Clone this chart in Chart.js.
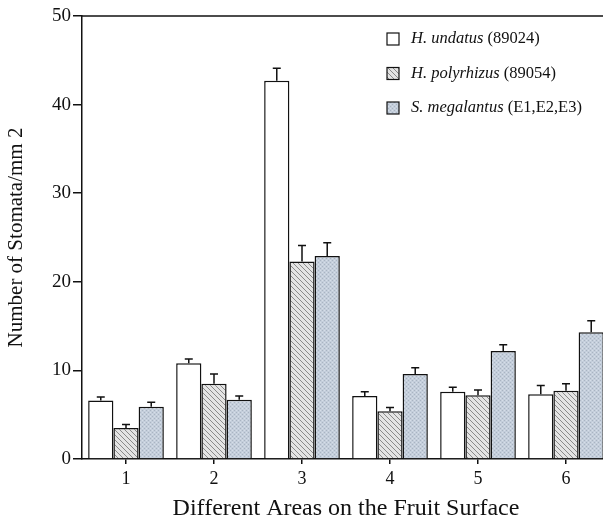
<!DOCTYPE html>
<html>
<head>
<meta charset="utf-8">
<script src="https://cdn.jsdelivr.net/npm/chart.js@4"></script>
<style>
  html, body { margin: 0; padding: 0; background: #fff; overflow: hidden; }
  #wrap { width: 610px; height: 523px; }
</style>
</head>
<body>
<div id="wrap"><canvas id="stomataChart" width="610" height="523"></canvas></div>
<script>
// data
var areas = ['1', '2', '3', '4', '5', '6'];
var undatus = [6.6, 10.8, 42.7, 7.1, 7.6, 7.3];
var undatusErr = [0.4, 0.5, 1.4, 0.5, 0.5, 1.0];
var polyrhizus = [3.5, 8.5, 22.3, 5.4, 7.2, 7.7];
var polyrhizusErr = [0.4, 1.1, 1.8, 0.4, 0.6, 0.8];
var megalantus = [5.9, 6.7, 22.9, 9.6, 12.2, 14.3];
var megalantusErr = [0.5, 0.4, 1.5, 0.7, 0.7, 1.3];
var yTicks = [0, 10, 20, 30, 40, 50];

var legendItems = [
    { italic: 'H. undatus', rest: ' (89024)' },
    { italic: 'H. polyrhizus', rest: ' (89054)' },
    { italic: 'S. megalantus', rest: ' (E1,E2,E3)' }
];

var serif = '"Liberation Serif", "DejaVu Serif", serif';

// fill patterns
function hatchPattern() {
    var c = document.createElement('canvas');
    c.width = 5; c.height = 5;
    var g = c.getContext('2d');
    g.fillStyle = '#e4e4e4';
    g.fillRect(0, 0, 5, 5);
    g.strokeStyle = '#8a8a8a';
    g.lineWidth = 1;
    g.beginPath();
    g.moveTo(-1, -1); g.lineTo(6, 6);
    g.moveTo(-1, 4); g.lineTo(1, 6);
    g.moveTo(4, -1); g.lineTo(6, 1);
    g.stroke();
    return g.createPattern(c, 'repeat');
}

function stipplePattern() {
    var c = document.createElement('canvas');
    c.width = 4; c.height = 4;
    var g = c.getContext('2d');
    g.fillStyle = '#c4cedb';
    g.fillRect(0, 0, 4, 4);
    g.fillStyle = '#a9b4c2';
    g.fillRect(0, 0, 1, 1);
    g.fillRect(2, 2, 1, 1);
    g.fillStyle = '#d6dee8';
    g.fillRect(2, 0, 1, 1);
    g.fillRect(0, 2, 1, 1);
    return g.createPattern(c, 'repeat');
}

var hatch = hatchPattern();
var stipple = stipplePattern();
var errors = [undatusErr, polyrhizusErr, megalantusErr];

// upward error bars with a cap
var errorBars = {
    id: 'errorBars',
    afterDatasetsDraw: function(chart) {
        var ctx = chart.ctx;
        var y = chart.scales.y;
        ctx.save();
        ctx.strokeStyle = '#111';
        ctx.lineWidth = 1.5;
        chart.data.datasets.forEach(function(ds, i) {
            var meta = chart.getDatasetMeta(i);
            meta.data.forEach(function(bar, j) {
                var top = y.getPixelForValue(ds.data[j] + errors[i][j]);
                ctx.beginPath();
                ctx.moveTo(bar.x, bar.y);
                ctx.lineTo(bar.x, top);
                ctx.moveTo(bar.x - 4, top);
                ctx.lineTo(bar.x + 4, top);
                ctx.stroke();
            });
        });
        ctx.restore();
    }
};

// top frame line and the legend box
var frame = {
    id: 'frame',
    afterDraw: function(chart) {
        var ctx = chart.ctx;
        var a = chart.chartArea;
        ctx.save();
        ctx.strokeStyle = '#111';
        ctx.lineWidth = 1.5;
        ctx.beginPath();
        ctx.moveTo(a.left, a.top);
        ctx.lineTo(a.right, a.top);
        ctx.stroke();

        var fills = [chart.data.datasets[0].backgroundColor, chart.data.datasets[1].backgroundColor, chart.data.datasets[2].backgroundColor];
        var bx = a.left + 305, by = a.top + 23;
        ctx.textBaseline = 'middle';
        legendItems.forEach(function(item, i) {
            var yy = by + i * 34.5;
            ctx.fillStyle = fills[i];
            ctx.fillRect(bx, yy - 6, 12, 12);
            ctx.lineWidth = 1.2;
            ctx.strokeRect(bx, yy - 6, 12, 12);
            ctx.fillStyle = '#111';
            ctx.font = 'italic 16.5px ' + serif;
            ctx.fillText(item.italic, bx + 24, yy);
            var w = ctx.measureText(item.italic).width;
            ctx.font = '16.5px ' + serif;
            ctx.fillText(item.rest, bx + 24 + w, yy);
        });
        ctx.restore();
    }
};

var ctx = document.getElementById('stomataChart').getContext('2d');
var chart = new Chart(ctx, {
    type: 'bar',
    data: {
        labels: areas,
        datasets: [
            { label: 'H. undatus (89024)', data: undatus, backgroundColor: '#ffffff' },
            { label: 'H. polyrhizus (89054)', data: polyrhizus, backgroundColor: hatch },
            { label: 'S. megalantus (E1,E2,E3)', data: megalantus, backgroundColor: stipple }
        ]
    },
    options: {
        responsive: false,
        animation: false,
        layout: { padding: { top: 16, right: 0, left: 0, bottom: 0 } },
        datasets: {
            bar: {
                borderColor: '#111',
                borderWidth: 1.5,
                categoryPercentage: 0.86,
                barPercentage: 1.0
            }
        },
        plugins: {
            legend: { display: false },
            tooltip: { enabled: false }
        },
        scales: {
            x: {
                grid: { display: true, offset: false, drawOnChartArea: false, tickLength: 5, color: '#111', lineWidth: 1.5 },
                border: { display: true, color: '#111', width: 1.5 },
                ticks: { color: '#111', font: { family: serif, size: 18 }, padding: 4 },
                title: {
                    display: true,
                    text: 'Different Areas on the Fruit Surface',
                    color: '#111',
                    font: { family: serif, size: 24 },
                    padding: { top: 3, bottom: 0 }
                },
                afterFit: function(scale) { scale.height = 64; }
            },
            y: {
                min: 0,
                max: 50,
                afterBuildTicks: function(scale) {
                    scale.ticks = yTicks.map(function(v) { return { value: v }; });
                },
                grid: { display: true, drawOnChartArea: false, tickLength: 9, color: '#111', lineWidth: 1.5 },
                border: { display: true, color: '#111', width: 1.5 },
                ticks: { color: '#111', font: { family: serif, size: 19 }, padding: 2 },
                title: {
                    display: true,
                    text: 'Number of Stomata/mm 2',
                    color: '#111',
                    font: { family: serif, size: 21 },
                    padding: { top: 4, bottom: 0 }
                },
                afterFit: function(scale) { scale.width = 82; }
            }
        }
    },
    plugins: [errorBars, frame]
});
</script>
</body>
</html>
